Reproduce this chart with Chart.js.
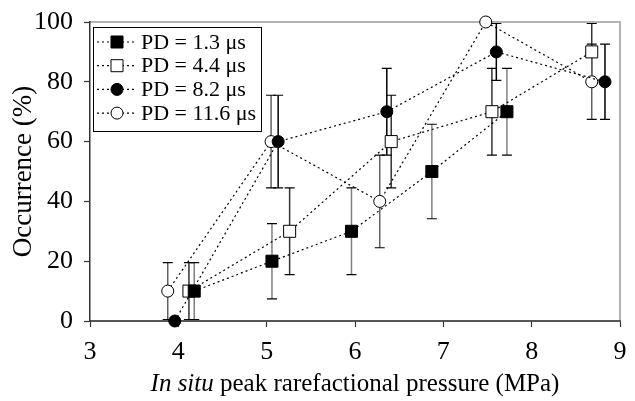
<!DOCTYPE html>
<html>
<head>
<meta charset="utf-8">
<script src="https://cdn.jsdelivr.net/npm/chart.js@4"></script>
<style>
  html, body { margin: 0; padding: 0; background: #fff; }
  #wrap { width: 635px; height: 401px; position: relative; }
  #probe { position: absolute; left: -999px; font-family: "Liberation Serif"; }
</style>
</head>
<body>
<div id="wrap"><canvas id="chart"></canvas></div>
<span id="probe">PD <i>In situ</i></span>
<script>
// data
const labels = ['PD = 1.3 μs', 'PD = 4.4 μs', 'PD = 8.2 μs', 'PD = 11.6 μs'];

const pd13X = [4.18, 5.06, 5.96, 6.87, 7.72];
const pd13Y = [10, 20, 30, 50, 70];
const pd13Err = [9.5, 12.6, 14.5, 15.8, 14.5];

const pd44X = [4.12, 5.26, 6.41, 7.55, 8.68];
const pd44Y = [10, 30, 60, 70, 90];
const pd44Err = [9.5, 14.5, 15.5, 14.5, 9.5];

const pd82X = [3.96, 5.13, 6.36, 7.60, 8.83];
const pd82Y = [0, 60, 70, 90, 80];
const pd82Err = [0, 15.5, 14.5, 9.5, 12.6];

const pd116X = [3.88, 5.05, 6.28, 7.48, 8.68];
const pd116Y = [10, 60, 40, 100, 80];
const pd116Err = [9.5, 15.5, 15.5, 0, 12.6];

const xTicks = [3, 4, 5, 6, 7, 8, 9];
const yTicks = [0, 20, 40, 60, 80, 100];

const xTitleItalic = 'In situ';
const xTitleRest = ' peak rarefactional pressure (MPa)';

const SERIF = 'Liberation Serif, Times New Roman, serif';

function pts(xs, ys, es) {
    return xs.map((x, i) => ({ x: x, y: ys[i], err: es[i] }));
}

function makeSet(label, xs, ys, es, style, fill, radius, barColor) {
    return {
        label: label,
        data: pts(xs, ys, es),
        showLine: true,
        borderColor: '#000',
        borderWidth: 1.2,
        borderDash: [2, 3],
        pointStyle: style,
        pointRadius: radius,
        pointHoverRadius: radius,
        pointBackgroundColor: fill,
        pointBorderColor: '#000',
        pointBorderWidth: 1,
        errColor: barColor,
        clip: false
    };
}

// vertical error bars, drawn under the markers
const errorBars = {
    id: 'errorBars',
    beforeDatasetsDraw(chart) {
        const ctx = chart.ctx;
        const xs = chart.scales.x, ys = chart.scales.y;
        ctx.save();
        chart.data.datasets.forEach(ds => {
            ds.data.forEach(p => {
                if (!p.err) return;
                const px = xs.getPixelForValue(p.x);
                const top = ys.getPixelForValue(Math.min(100, p.y + p.err));
                const bot = ys.getPixelForValue(Math.max(0, p.y - p.err));
                ctx.strokeStyle = ds.errColor;
                ctx.lineWidth = 1.5;
                ctx.beginPath();
                ctx.moveTo(px, top); ctx.lineTo(px, bot);
                ctx.stroke();
                ctx.strokeStyle = '#000';
                ctx.lineWidth = 1.2;
                ctx.beginPath();
                ctx.moveTo(px - 5, top); ctx.lineTo(px + 5, top);
                if (p.y - p.err > 0) { ctx.moveTo(px - 5, bot); ctx.lineTo(px + 5, bot); }
                ctx.stroke();
            });
        });
        ctx.restore();
    }
};

// light grey frame on top and right of plot area + x title with italic part
const frame = {
    id: 'frame',
    beforeDraw(chart) {
        const a = chart.chartArea, ctx = chart.ctx;
        ctx.save();
        ctx.fillStyle = '#fff';
        ctx.fillRect(0, 0, chart.width, chart.height);
        ctx.strokeStyle = '#b4b4b4';
        ctx.lineWidth = 2;
        ctx.beginPath();
        ctx.moveTo(a.left, a.top); ctx.lineTo(a.right, a.top); ctx.lineTo(a.right, a.bottom);
        ctx.stroke();
        ctx.restore();
    },
    afterDraw(chart) {
        const a = chart.chartArea, ctx = chart.ctx;
        ctx.save();
        ctx.fillStyle = '#000';
        ctx.textBaseline = 'middle';
        const it = 'italic 25px ' + SERIF, up = '25px ' + SERIF;
        ctx.font = it;
        const w1 = ctx.measureText(xTitleItalic).width;
        ctx.font = up;
        const w2 = ctx.measureText(xTitleRest).width;
        let x = (a.left + a.right) / 2 - (w1 + w2) / 2;
        const y = 384;
        ctx.font = it;
        ctx.fillText(xTitleItalic, x, y);
        ctx.font = up;
        ctx.fillText(xTitleRest, x + w1, y);
        ctx.restore();
    }
};

// boxed legend in the top left corner
const boxLegend = {
    id: 'boxLegend',
    afterDraw(chart) {
        const ctx = chart.ctx;
        const bx = 93, by = 27, bw = 168, bh = 104;
        ctx.save();
        ctx.fillStyle = '#fff';
        ctx.fillRect(bx, by, bw, bh);
        ctx.strokeStyle = '#000';
        ctx.lineWidth = 1;
        ctx.strokeRect(bx + 0.5, by + 0.5, bw, bh);
        chart.data.datasets.forEach((ds, i) => {
            const cy = 42 + i * 23.7;
            ctx.strokeStyle = '#000';
            ctx.lineWidth = 1.2;
            ctx.setLineDash([2, 3]);
            ctx.beginPath();
            ctx.moveTo(97, cy); ctx.lineTo(137, cy);
            ctx.stroke();
            ctx.setLineDash([]);
            ctx.fillStyle = ds.pointBackgroundColor;
            ctx.strokeStyle = '#000';
            ctx.lineWidth = 1;
            ctx.beginPath();
            if (ds.pointStyle === 'rect') {
                const h = ds.pointRadius * Math.SQRT1_2;
                ctx.rect(117 - h, cy - h, 2 * h, 2 * h);
            } else {
                ctx.arc(117, cy, ds.pointRadius, 0, Math.PI * 2);
            }
            ctx.fill(); ctx.stroke();
            ctx.fillStyle = '#000';
            ctx.font = '22px ' + SERIF;
            ctx.textBaseline = 'middle';
            ctx.fillText(ds.label, 141, cy + 1);
        });
        ctx.restore();
    }
};

function draw() {
    new Chart(document.getElementById('chart'), {
        type: 'scatter',
        data: {
            datasets: [
                makeSet(labels[0], pd13X, pd13Y, pd13Err, 'rect', '#000', 8.5, '#808080'),
                makeSet(labels[1], pd44X, pd44Y, pd44Err, 'rect', '#fff', 8.5, '#333'),
                makeSet(labels[2], pd82X, pd82Y, pd82Err, 'circle', '#000', 6, '#000'),
                makeSet(labels[3], pd116X, pd116Y, pd116Err, 'circle', '#fff', 6, '#606060')
            ]
        },
        options: {
            responsive: true,
            maintainAspectRatio: false,
            animation: false,
            layout: { padding: { left: 0, right: 15, top: 22, bottom: 0 } },
            plugins: { legend: { display: false }, tooltip: { enabled: false } },
            scales: {
                x: {
                    type: 'linear', min: 3, max: 9,
                    afterBuildTicks: s => { s.ticks = xTicks.map(v => ({ value: v })); },
                    afterFit: s => { s.height = 80; s.paddingLeft = 0; s.paddingRight = 0; },
                    border: { color: '#555', width: 2 },
                    grid: { drawOnChartArea: false, tickLength: 6, tickColor: '#333', tickWidth: 1.2 },
                    ticks: { color: '#000', padding: 10, font: { family: SERIF, size: 26 } }
                },
                y: {
                    min: 0, max: 100,
                    afterBuildTicks: s => { s.ticks = yTicks.map(v => ({ value: v })); },
                    afterFit: s => { s.width = 90; s.paddingTop = 0; s.paddingBottom = 0; },
                    border: { color: '#333', width: 1.5 },
                    grid: { drawOnChartArea: false, tickLength: 6, tickColor: '#333', tickWidth: 1.2 },
                    ticks: { color: '#000', padding: 11, font: { family: SERIF, size: 26 } },
                    title: {
                        display: true, color: '#000', padding: { top: 8, bottom: 0 },
                        font: { family: SERIF, size: 27 },
                        text: 'Occurrence (%)'
                    }
                }
            }
        },
        plugins: [frame, errorBars, boxLegend]
    });
}

Promise.all([
    document.fonts.load('24px "Liberation Serif"'),
    document.fonts.load('italic 24px "Liberation Serif"')
]).then(draw, draw);
</script>
</body>
</html>
